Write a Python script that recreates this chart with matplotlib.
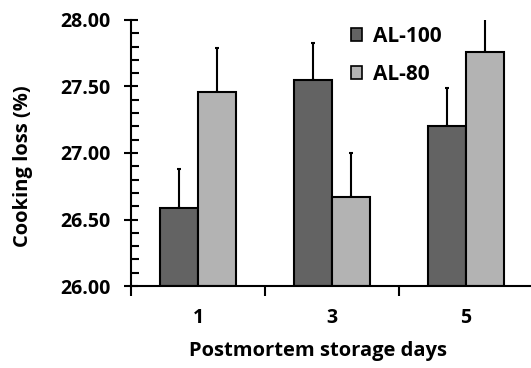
import matplotlib
matplotlib.use("Agg")
import matplotlib.pyplot as plt
from matplotlib.ticker import MultipleLocator, FixedLocator
from matplotlib.patches import Patch
import numpy as np

categories = ["1", "3", "5"]
al100 = [26.59, 27.55, 27.20]
al100_err = [0.29, 0.28, 0.29]
al80 = [27.46, 26.67, 27.76]
al80_err = [0.33, 0.33, 0.30]

plt.rcParams['font.family'] = ['Open Sans', 'DejaVu Sans']
plt.rcParams['font.weight'] = 'bold'

fig = plt.figure(figsize=(5.31, 3.68), dpi=100)
ax = fig.add_axes([0.2467, 0.2228, 0.757, 0.7229])

x = np.arange(len(categories))
w = 0.284
base = 26.0
dark = '#636363'
light = '#b3b3b3'

ax.bar(x - w/2, np.array(al100) - base, w, bottom=base, color=dark, edgecolor='black', linewidth=1.5, zorder=2)
ax.bar(x + w/2, np.array(al80) - base, w, bottom=base, color=light, edgecolor='black', linewidth=1.5, zorder=2)
ax.errorbar(x - w/2, al100, yerr=[np.zeros(3), al100_err], fmt='none', ecolor='black', elinewidth=1.5, capsize=1.5, capthick=1.5, zorder=1)
ax.errorbar(x + w/2, al80, yerr=[np.zeros(3), al80_err], fmt='none', ecolor='black', elinewidth=1.5, capsize=1.5, capthick=1.5, zorder=1)

ax.set_ylim(26, 28)
ax.set_xlim(-0.5, 2.5)
ax.yaxis.set_major_locator(MultipleLocator(0.5))
ax.yaxis.set_minor_locator(MultipleLocator(0.1))
ax.yaxis.set_major_formatter(matplotlib.ticker.FormatStrFormatter('%.2f'))
ax.tick_params(axis='y', which='major', direction='inout', length=10, width=1.5, labelsize=14, pad=10)
ax.tick_params(axis='y', which='minor', direction='in', length=6, width=1.5)

ax.set_xticks(x)
ax.set_xticklabels(categories)
ax.xaxis.set_minor_locator(FixedLocator([-0.5, 0.5, 1.5, 2.5]))
ax.tick_params(axis='x', which='major', length=0, labelsize=14, pad=16)
ax.tick_params(axis='x', which='minor', direction='out', length=7, width=1.5)

for s in ['top', 'right']:
    ax.spines[s].set_visible(False)
for s in ['left', 'bottom']:
    ax.spines[s].set_linewidth(1.5)

ax.set_ylabel('Cooking loss (%)', fontsize=14.5, fontweight='bold')
ax.yaxis.set_label_coords(-0.244, 0.451)
ax.set_xlabel('Postmortem storage days', fontsize=14.5, fontweight='bold')
ax.xaxis.set_label_coords(0.465, -0.205)

handles = [Patch(facecolor=dark, edgecolor='black', linewidth=1.2, label='AL-100'),
           Patch(facecolor=light, edgecolor='black', linewidth=1.2, label='AL-80')]
ax.legend(handles=handles, loc='upper left', bbox_to_anchor=(0.505, 1.04), frameon=False,
          handlelength=0.55, handleheight=0.55, handletextpad=0.5, labelspacing=0.8,
          borderpad=0.3, prop={'weight': 'bold', 'size': 15})

fig.savefig('out.png', dpi=100)
